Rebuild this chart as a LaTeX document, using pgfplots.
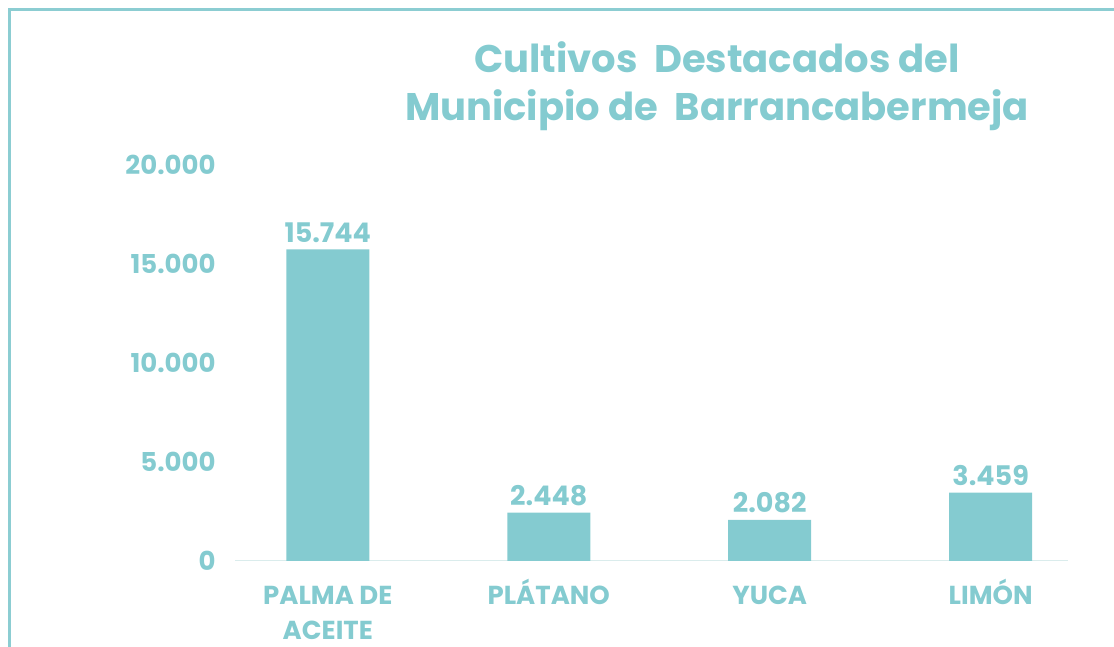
\documentclass[border=0pt]{standalone}
\usepackage{pgfplots}
\pgfplotsset{compat=1.18}
\usepackage{fontspec}
\setmainfont{Poppins}
\definecolor{teal1}{RGB}{132,203,208}
\definecolor{frame1}{RGB}{140,205,210}
\definecolor{base1}{RGB}{218,236,236}
\begin{document}
\begin{tikzpicture}[x=1pt,y=1pt]
\useasboundingbox (0,0) rectangle (1114,647);
\draw[frame1,line width=3pt] (9,0) -- (9,637) -- (1114,637);
\node[teal1,font=\bfseries\fontsize{38.5}{48}\selectfont,align=center] at (717,561)
  {Cultivos\ \ Destacados del\\Municipio de\ \ Barrancabermeja};
\begin{axis}[
  at={(235pt,86pt)}, anchor=south west,
  scale only axis, width=833pt, height=396pt,
  ymin=0, ymax=20000, xmin=-0.42, xmax=3.35,
  axis y line=none, axis x line*=bottom,
  x axis line style={base1,line width=1pt,-},
  xtick=data,
  xticklabels={{\vphantom{Á}PALMA DE\\ACEITE},PLÁTANO,{\vphantom{Á}YUCA},LIMÓN},
  xtick style={draw=none},
  xticklabel style={teal1,font=\bfseries\fontsize{26}{35}\selectfont,align=center,anchor=north,yshift=-10pt},
  /pgf/number format/assume math mode=true,
  /pgf/number format/.cd,1000 sep={.},/pgfplots/.cd,
  ybar, bar width=83pt,
  nodes near coords,
  every node near coord/.append style={teal1,font=\bfseries\fontsize{27}{30}\selectfont,yshift=3pt},
]
\addplot[fill=teal1,draw=none] coordinates {(0,15744) (1,2448) (2,2082) (3,3459)};
\end{axis}
% y tick labels only (no y axis line in the reference)
\begin{axis}[
  at={(235pt,86pt)}, anchor=south west,
  scale only axis, width=833pt, height=396pt,
  ymin=0, ymax=20000, xmin=-0.42, xmax=3.35,
  axis x line=none, axis y line*=left,
  y axis line style={draw=none},
  ytick={0,5000,10000,15000,20000}, ytick style={draw=none},
  scaled y ticks=false,
  yticklabel style={teal1,font=\bfseries\fontsize{26}{30}\selectfont,xshift=-16pt},
  /pgf/number format/assume math mode=true,
  /pgf/number format/.cd,1000 sep={.},
]
\end{axis}
\end{tikzpicture}
\end{document}
